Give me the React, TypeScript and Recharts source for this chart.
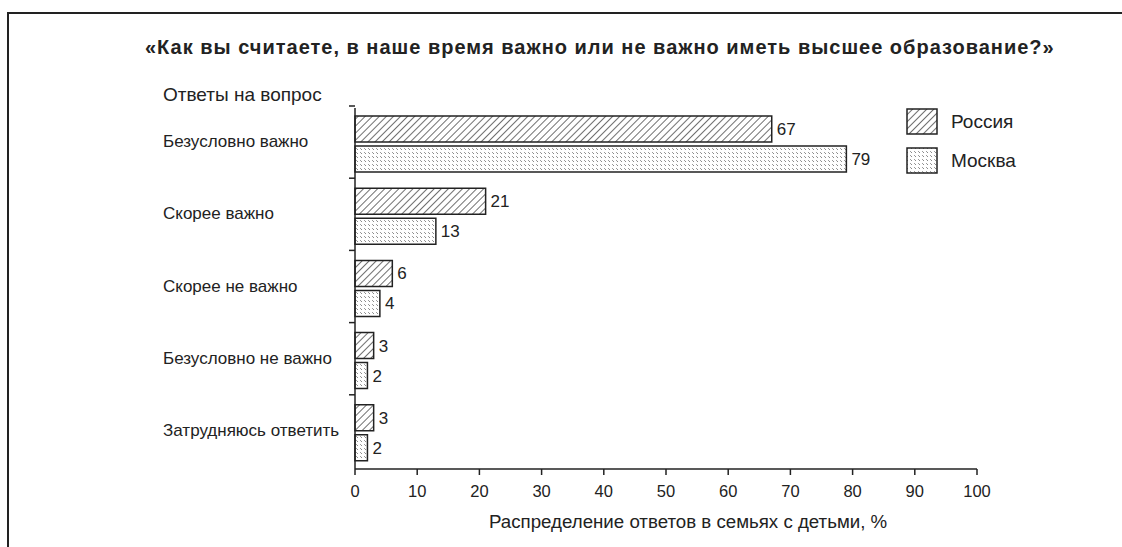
import React from 'react';
import { BarChart, Bar, XAxis, YAxis, LabelList } from 'recharts';

const categories = ['Безусловно важно', 'Скорее важно', 'Скорее не важно', 'Безусловно не важно', 'Затрудняюсь ответить'];
const russia = [67, 21, 6, 3, 3];
const moscow = [79, 13, 4, 2, 2];
const xTicks = [0, 10, 20, 30, 40, 50, 60, 70, 80, 90, 100];
const seriesNames = ['Россия', 'Москва'];

const data = categories.map((name, i) => ({ name, russia: russia[i], moscow: moscow[i] }));

const INK = '#222';
const SANS = '"Liberation Sans", Arial, sans-serif';

function YTick(props: any) {
  const { x, y, payload } = props;
  const half = payload && payload.offset ? payload.offset : 36;
  return (
    <g>
      <text x={163} y={y} dy={3} textAnchor="start" fontSize={17} fill={INK} fontFamily={SANS}>
        {payload.value}
      </text>
      <line x1={x + 2} x2={x + 8} y1={y - half - 2} y2={y - half - 2} stroke={INK} strokeWidth={1.5} />
    </g>
  );
}

function Swatch({ fill }: { fill: string }) {
  return (
    <svg width={32} height={27} style={{ display: 'block' }}>
      <rect x={1} y={1} width={30} height={25} fill={fill} stroke={INK} strokeWidth={1.5} />
    </svg>
  );
}

export default function App() {
  return (
    <div style={{ position: 'absolute', left: 0, top: 0, width: 1122, height: 547, background: '#fff', overflow: 'hidden' }}>
      <svg width={0} height={0} style={{ position: 'absolute' }}>
        <defs>
          <pattern id="hatchRU" patternUnits="userSpaceOnUse" width={5} height={5} patternTransform="rotate(45)">
            <rect width={5} height={5} fill="#fff" />
            <line x1={0} y1={0} x2={0} y2={5} stroke={INK} strokeWidth={1.3} />
          </pattern>
          <pattern id="dotsMSK" patternUnits="userSpaceOnUse" width={4} height={4}>
            <rect width={4} height={4} fill="#fff" />
            <line x1={0.5} y1={0.5} x2={1.6} y2={1.6} stroke={INK} strokeWidth={0.9} />
          </pattern>
        </defs>
      </svg>
      <div style={{ position: 'absolute', left: 7, top: 12, width: 1200, height: 600, borderTop: `2px solid ${INK}`, borderLeft: `2px solid ${INK}` }} />
      <div style={{ position: 'absolute', left: 145, top: 36, whiteSpace: 'nowrap', fontFamily: SANS, fontWeight: 'bold', fontSize: 20, letterSpacing: 1, color: INK }}>
        «Как вы считаете, в наше время важно или не важно иметь высшее образование?»
      </div>
      <div style={{ position: 'absolute', left: 163, top: 84, whiteSpace: 'nowrap', fontFamily: SANS, fontSize: 19, color: INK }}>
        Ответы на вопрос
      </div>
      <div style={{ position: 'absolute', left: 489, top: 511, whiteSpace: 'nowrap', fontFamily: SANS, fontSize: 18.7, color: INK }}>
        Распределение ответов в семьях с детьми, %
      </div>
      <div style={{ position: 'absolute', left: 906, top: 108 }}>
        <div style={{ display: 'flex', alignItems: 'center', height: 27, marginBottom: 12 }}>
          <Swatch fill="url(#hatchRU)" />
          <span style={{ marginLeft: 13, fontFamily: SANS, fontSize: 19, color: INK }}>{seriesNames[0]}</span>
        </div>
        <div style={{ display: 'flex', alignItems: 'center', height: 27 }}>
          <Swatch fill="url(#dotsMSK)" />
          <span style={{ marginLeft: 13, fontFamily: SANS, fontSize: 19, color: INK }}>{seriesNames[1]}</span>
        </div>
      </div>
      <div style={{ position: 'absolute', left: 0, top: 0 }}>
        <BarChart
          width={1122}
          height={547}
          layout="vertical"
          data={data}
          margin={{ top: 108, right: 145, bottom: 0, left: 0 }}
          barSize={26}
          barGap={4}
        >
          <XAxis
            type="number"
            domain={[0, 100]}
            ticks={xTicks}
            interval={0}
            height={78}
            tickSize={6}
            tickMargin={10}
            stroke={INK}
            tick={{ fill: INK, fontSize: 16.5, fontFamily: SANS }}
            axisLine={{ stroke: INK, strokeWidth: 1.5 }}
            tickLine={{ stroke: INK, strokeWidth: 1.5 }}
          />
          <YAxis
            type="category"
            dataKey="name"
            width={355}
            tickLine={false}
            tick={<YTick />}
            axisLine={{ stroke: INK, strokeWidth: 1.5 }}
            interval={0}
          />
          <Bar dataKey="russia" name={seriesNames[0]} fill="url(#hatchRU)" stroke={INK} strokeWidth={1.5} isAnimationActive={false}>
            <LabelList dataKey="russia" position="right" offset={5} fill={INK} fontSize={17} fontFamily={SANS} />
          </Bar>
          <Bar dataKey="moscow" name={seriesNames[1]} fill="url(#dotsMSK)" stroke={INK} strokeWidth={1.5} isAnimationActive={false}>
            <LabelList dataKey="moscow" position="right" offset={5} fill={INK} fontSize={17} fontFamily={SANS} />
          </Bar>
        </BarChart>
      </div>
    </div>
  );
}
